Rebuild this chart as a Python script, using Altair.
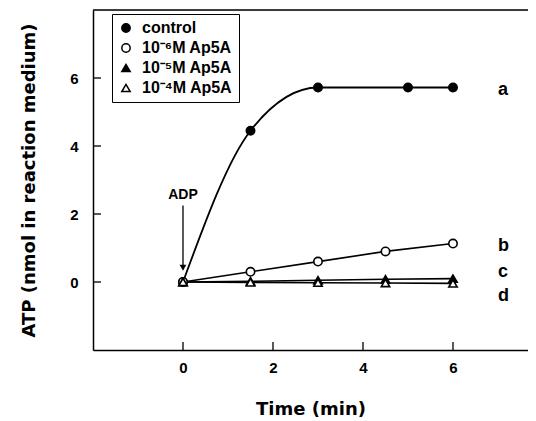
import altair as alt
import pandas as pd

# ---- data ----
series = ["control", "10⁻⁶M Ap5A", "10⁻⁵M Ap5A", "10⁻⁴M Ap5A"]
control_t = [0, 1.5, 3, 5, 6]
control_v = [0, 4.45, 5.72, 5.72, 5.72]
times = [0, 1.5, 3, 4.5, 6]
b_v = [0, 0.3, 0.6, 0.9, 1.13]
c_v = [0, 0.02, 0.05, 0.08, 0.1]
d_v = [0, -0.01, -0.02, -0.03, -0.04]

curve_names = ["a", "b", "c", "d"]
curve_name_t = [7.0, 7.0, 7.0, 7.0]
curve_name_v = [5.65, 1.06, 0.3, -0.42]

tick_vals = [0, 2, 4, 6]
x_domain = [-2, 7.667]
y_domain = [-2, 8]

FONT = "Liberation Sans"
TFONT = "DejaVu Sans"
W, H = 435, 340

rows = []
for t, v in zip(control_t, control_v):
    rows.append({"t": t, "v": v, "s": series[0]})
for vals, s in zip([b_v, c_v, d_v], series[1:]):
    for t, v in zip(times, vals):
        rows.append({"t": t, "v": v, "s": s})
df = pd.DataFrame(rows)
df_ctrl = df[df.s == series[0]]
df_rest = df[df.s != series[0]]

xs = alt.Scale(domain=x_domain, nice=False, zero=False)
ys = alt.Scale(domain=y_domain, nice=False, zero=False)

xaxis = alt.Axis(values=tick_vals, ticks=False, grid=False, domain=True,
                 domainColor="black", domainWidth=1.5,
                 labelFont=FONT, labelFontSize=15, labelFontWeight="bold",
                 labelColor="black", labelPadding=10,
                 title="Time (min)", titleFont=TFONT, titleFontSize=18,
                 titleFontWeight="bold", titleColor="black", titlePadding=25)
yaxis = alt.Axis(values=tick_vals, ticks=False, grid=False, domain=True,
                 domainColor="black", domainWidth=1.5,
                 labelFont=FONT, labelFontSize=15, labelFontWeight="bold",
                 labelColor="black", labelPadding=15,
                 title="ATP (nmol in reaction medium)", titleFont=TFONT,
                 titleFontSize=18, titleFontWeight="bold", titleColor="black",
                 titlePadding=31)

X = alt.X("t:Q", scale=xs, axis=xaxis)
Y = alt.Y("v:Q", scale=ys, axis=yaxis)

line_ctrl = alt.Chart(df_ctrl).mark_line(
    interpolate="monotone", color="black", strokeWidth=1.8, clip=True
).encode(x=X, y=Y)

line_rest = alt.Chart(df_rest).mark_line(
    color="black", strokeWidth=1.6, clip=True
).encode(x=X, y=Y, detail="s:N")

points = alt.Chart(df).mark_point(
    filled=False, stroke="black", strokeWidth=1.6, size=70, opacity=1, clip=True
).encode(
    x=X, y=Y,
    shape=alt.Shape("s:N", title=None,
                    scale=alt.Scale(domain=series,
                                    range=["circle", "circle", "triangle-up", "triangle-up"])),
    fill=alt.Fill("s:N", title=None,
                  scale=alt.Scale(domain=series,
                                  range=["black", "white", "black", "white"]),
                  legend=alt.Legend(orient="none", legendX=19, legendY=4,
                                    strokeColor="black", padding=6,
                                    labelFont=FONT, labelFontSize=16,
                                    labelFontWeight="bold", labelColor="black",
                                    symbolStrokeColor="black", symbolStrokeWidth=1.5,
                                    symbolSize=70, rowPadding=4, labelOffset=8)),
)

labels_df = pd.DataFrame({"t": curve_name_t, "v": curve_name_v, "txt": curve_names})
curve_labels = alt.Chart(labels_df).mark_text(
    font=FONT, fontSize=18, fontWeight="bold", color="black", align="left",
    baseline="middle"
).encode(x=alt.X("t:Q", scale=xs), y=alt.Y("v:Q", scale=ys), text="txt:N")

# ADP annotation
adp_df = pd.DataFrame({"t": [0], "v": [2.55], "v0": [2.25], "v1": [0.5], "va": [0.42], "txt": ["ADP"]})
adp_text = alt.Chart(adp_df).mark_text(
    font=FONT, fontSize=14, fontWeight="bold", color="black", baseline="middle"
).encode(x=alt.X("t:Q", scale=xs), y=alt.Y("v:Q", scale=ys), text="txt:N")
adp_rule = alt.Chart(adp_df).mark_rule(color="black", strokeWidth=1.3).encode(
    x=alt.X("t:Q", scale=xs), y=alt.Y("v0:Q", scale=ys), y2="v1:Q")
adp_head = alt.Chart(adp_df).mark_point(
    shape="triangle-down", filled=True, color="black", size=45, opacity=1
).encode(x=alt.X("t:Q", scale=xs), y=alt.Y("va:Q", scale=ys))

# inward ticks and top frame line
ticks_df = pd.DataFrame({"t": tick_vals})
xticks = alt.Chart(ticks_df).mark_rule(color="black", strokeWidth=1.3).encode(
    x=alt.X("t:Q", scale=xs), y=alt.value(H), y2=alt.value(H - 8))
yticks = alt.Chart(ticks_df).mark_rule(color="black", strokeWidth=1.3).encode(
    y=alt.Y("t:Q", scale=ys), x=alt.value(0), x2=alt.value(8))
top_line = alt.Chart(pd.DataFrame({"v": [y_domain[1]]})).mark_rule(
    color="black", strokeWidth=1.5).encode(y=alt.Y("v:Q", scale=ys))

chart = alt.layer(
    top_line, xticks, yticks, line_ctrl, line_rest, points,
    curve_labels, adp_text, adp_rule, adp_head
).properties(
    width=W, height=H,
    autosize=alt.AutoSizeParams(type="none"),
    padding={"left": 85, "top": 2, "right": 0, "bottom": 70},
).configure_view(stroke=None).configure(background="white")

chart.save("out.html", embed_options={"renderer": "svg", "actions": False})
